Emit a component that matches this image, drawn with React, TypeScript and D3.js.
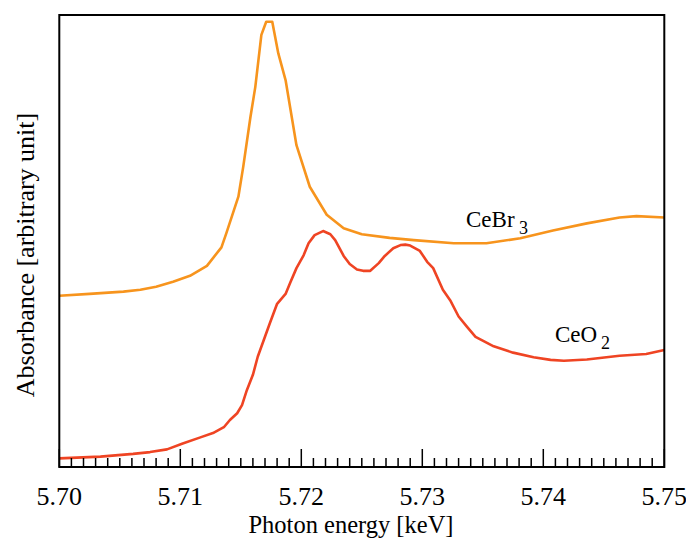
import React from "react";
import * as d3 from "d3";

const ceBr3Energy = [5.7, 5.7025, 5.7053, 5.7067, 5.708, 5.7094, 5.7108, 5.7122, 5.7134, 5.7138, 5.7148, 5.7152, 5.7158, 5.7162, 5.7167, 5.7171, 5.7176, 5.7181, 5.7187, 5.7196, 5.7207, 5.7221, 5.7235, 5.725, 5.7273, 5.7293, 5.7326, 5.7353, 5.7381, 5.7408, 5.7436, 5.7463, 5.7477, 5.75];
const ceBr3Abs = [0.379, 0.383, 0.388, 0.392, 0.399, 0.41, 0.423, 0.445, 0.486, 0.517, 0.598, 0.664, 0.775, 0.841, 0.956, 0.985, 0.985, 0.915, 0.856, 0.712, 0.62, 0.558, 0.528, 0.515, 0.507, 0.502, 0.495, 0.495, 0.506, 0.523, 0.539, 0.552, 0.555, 0.552];

const ceO2Energy = [5.7, 5.7034, 5.7061, 5.7075, 5.7089, 5.7102, 5.7116, 5.7127, 5.7136, 5.7141, 5.7147, 5.7151, 5.7155, 5.716, 5.7164, 5.7169, 5.7174, 5.718, 5.7187, 5.7191, 5.7196, 5.7202, 5.7206, 5.7211, 5.7218, 5.7224, 5.7228, 5.7235, 5.724, 5.7246, 5.7251, 5.7257, 5.7264, 5.7269, 5.7276, 5.7282, 5.7286, 5.729, 5.7298, 5.7304, 5.7309, 5.7317, 5.7323, 5.733, 5.7337, 5.7344, 5.7359, 5.7375, 5.7392, 5.7406, 5.7417, 5.7436, 5.7463, 5.7485, 5.75];
const ceO2Abs = [0.019, 0.023, 0.029, 0.033, 0.039, 0.052, 0.065, 0.075, 0.088, 0.104, 0.119, 0.137, 0.17, 0.204, 0.244, 0.281, 0.318, 0.361, 0.383, 0.409, 0.44, 0.469, 0.495, 0.513, 0.522, 0.515, 0.502, 0.467, 0.449, 0.437, 0.434, 0.434, 0.451, 0.467, 0.484, 0.491, 0.492, 0.49, 0.478, 0.454, 0.44, 0.392, 0.369, 0.333, 0.31, 0.288, 0.267, 0.253, 0.243, 0.237, 0.235, 0.238, 0.246, 0.25, 0.259];

const majorTicks = [5.7, 5.71, 5.72, 5.73, 5.74, 5.75];
const tickLabels = ["5.70", "5.71", "5.72", "5.73", "5.74", "5.75"];

const W = 686;
const H = 538;
const L = 59.3;
const R = 664.3;
const T = 15;
const B = 467;
const FONT = '"Liberation Serif", "Times New Roman", Times, "DejaVu Serif", serif';

export default function App() {
  const x = d3.scaleLinear().domain([5.7, 5.75]).range([L, R]);
  const y = d3.scaleLinear().domain([0, 1]).range([B, T]);
  const line = d3
    .line<[number, number]>()
    .x((d) => x(d[0]))
    .y((d) => y(d[1]))
    .curve(d3.curveLinear);

  const br = ceBr3Energy.map((e, i) => [e, ceBr3Abs[i]] as [number, number]);
  const o2 = ceO2Energy.map((e, i) => [e, ceO2Abs[i]] as [number, number]);
  const minor = d3.range(0, 51).map((i) => 5.7 + i * 0.001);
  const ts = { fontFamily: FONT, fill: "#000" } as React.CSSProperties;

  return (
    <svg
      width={W}
      height={H}
      style={{ position: "absolute", left: 0, top: 0, display: "block", background: "#fff" }}
    >
      <path d={line(br) || ""} fill="none" stroke="#F7941D" strokeWidth={2.6} strokeLinejoin="round" />
      <path d={line(o2) || ""} fill="none" stroke="#EF4423" strokeWidth={2.6} strokeLinejoin="round" />
      {minor.map((t, i) => (
        <line key={"m" + i} x1={x(t)} x2={x(t)} y1={B} y2={i % 10 === 0 ? B - 18 : B - 9} stroke="#000" strokeWidth={1.5} />
      ))}
      <rect x={L} y={T} width={R - L} height={B - T} fill="none" stroke="#000" strokeWidth={2} />
      {majorTicks.map((t, i) => (
        <text key={"l" + i} x={x(t)} y={504.5} textAnchor="middle" style={{ ...ts, fontSize: 26 }}>
          {tickLabels[i]}
        </text>
      ))}
      <text x={351} y={532.5} textAnchor="middle" style={{ ...ts, fontSize: 24.5 }}>
        Photon energy [keV]
      </text>
      <text transform={`translate(34,255) rotate(-90)`} textAnchor="middle" style={{ ...ts, fontSize: 26 }}>
        Absorbance [arbitrary unit]
      </text>
      <text x={466} y={227} style={{ ...ts, fontSize: 23 }}>CeBr</text>
      <text x={519} y={234} style={{ ...ts, fontSize: 18 }}>3</text>
      <text x={555} y={342} style={{ ...ts, fontSize: 23 }}>CeO</text>
      <text x={601} y={349} style={{ ...ts, fontSize: 18 }}>2</text>
    </svg>
  );
}
